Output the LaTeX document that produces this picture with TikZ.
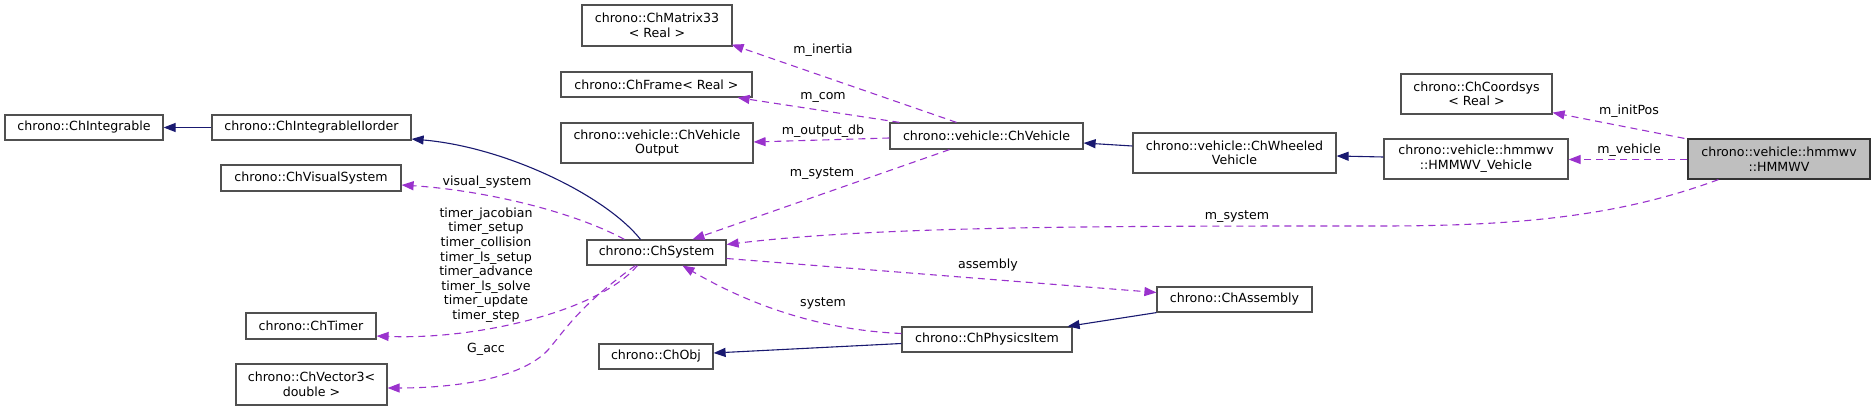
\documentclass[tikz,border=0pt]{standalone}
\usepackage{fontspec}
\setmainfont{DejaVu Sans}
\usetikzlibrary{arrows.meta,calc}
\definecolor{edgepurple}{HTML}{9A32CD}
\definecolor{edgenavy}{HTML}{191970}
\definecolor{boxborder}{HTML}{505050}
\definecolor{rootfill}{HTML}{BFBFBF}
\begin{document}
\begin{tikzpicture}[x=1pt,y=-1pt,
  font=\fontsize{12.6}{14.6}\selectfont,
  cls/.style={draw=boxborder, line width=1.2pt, fill=white, inner sep=0pt, align=center},
  rootcls/.style={cls, fill=rootfill, draw=black!80},
  inh/.style={draw=edgenavy, line width=1.1pt, -{Triangle[length=12pt,width=9pt,fill=edgenavy]}},
  usage/.style={draw=edgepurple, line width=1.1pt, dash pattern=on 7pt off 5pt, -{Triangle[length=12pt,width=9pt,fill=edgepurple]}},
  lbl/.style={inner sep=0pt, align=center}
]
\useasboundingbox (0,0) rectangle (1876,411);

% nodes
\node[cls, minimum width=158, minimum height=25] (ChIntegrable) at (84,127.5) {chrono::ChIntegrable};
\node[cls, minimum width=199, minimum height=25] (ChIntegrableIIorder) at (311.5,127.5) {chrono::ChIntegrableIIorder};
\node[cls, minimum width=180, minimum height=26] (ChVisualSystem) at (311,178) {chrono::ChVisualSystem};
\node[cls, minimum width=130, minimum height=26] (ChTimer) at (311,326) {chrono::ChTimer};
\node[cls, minimum width=151, minimum height=41] (ChVector3) at (311.5,384.5) {chrono::ChVector3<\\double >};
\node[cls, minimum width=139, minimum height=25] (ChSystem) at (656.5,252.5) {chrono::ChSystem};
\node[cls, minimum width=114, minimum height=25] (ChObj) at (656,356.5) {chrono::ChObj};
\node[cls, minimum width=150, minimum height=41] (ChMatrix33) at (657,25.5) {chrono::ChMatrix33\\< Real >};
\node[cls, minimum width=191, minimum height=25] (ChFrame) at (656.5,84.5) {chrono::ChFrame< Real >};
\node[cls, minimum width=192, minimum height=40] (ChVehicleOutput) at (657,143) {chrono::vehicle::ChVehicle\\Output};
\node[cls, minimum width=193, minimum height=26] (ChVehicle) at (986.5,136) {chrono::vehicle::ChVehicle};
\node[cls, minimum width=203, minimum height=40] (ChWheeledVehicle) at (1234.5,153) {chrono::vehicle::ChWheeled\\Vehicle};
\node[cls, minimum width=155, minimum height=25] (ChAssembly) at (1234.5,299.5) {chrono::ChAssembly};
\node[cls, minimum width=170, minimum height=25] (ChPhysicsItem) at (987,339.5) {chrono::ChPhysicsItem};
\node[cls, minimum width=151, minimum height=40] (ChCoordsys) at (1476.5,94) {chrono::ChCoordsys\\< Real >};
\node[cls, minimum width=184, minimum height=40] (HMMWVVehicle) at (1476,159) {chrono::vehicle::hmmwv\\::HMMWV\_Vehicle};
\node[rootcls, minimum width=182, minimum height=40] (HMMWV) at (1779,159) {chrono::vehicle::hmmwv\\::HMMWV};

% inheritance edges
\draw[inh] (ChIntegrableIIorder.west) -- (ChIntegrable.east);
\draw[inh] ($(ChSystem.north)+(-16,0)$) .. controls (605,195) and (505,147) .. ($(ChIntegrableIIorder.east)+(0,11.5)$);
\draw[inh] ($(ChWheeledVehicle.west)+(0,-7)$) -- ($(ChVehicle.east)+(0,7)$);
\draw[inh] ($(HMMWVVehicle.west)+(0,-2)$) -- ($(ChWheeledVehicle.east)+(0,3)$);
\draw[inh] ($(ChPhysicsItem.west)+(0,4)$) -- ($(ChObj.east)+(0,-3.5)$);
\draw[inh] (ChAssembly.south west) -- ($(ChPhysicsItem.north east)+(-5,0)$);

% usage edges
\draw[usage] ($(ChVehicle.north)+(-30,0)$) -- ($(ChMatrix33.south east)+(-1,-2)$);
\draw[usage] ($(ChVehicle.north west)+(10,0)$) -- ($(ChFrame.south east)+(-15,0)$);
\draw[usage] ($(ChVehicle.west)+(0,2)$) -- ($(ChVehicleOutput.east)+(0,-1)$);
\draw[usage] ($(ChVehicle.south)+(-37,0)$) -- ($(ChSystem.north)+(36,0)$);
\draw[usage] ($(HMMWV.west)+(0,0.5)$) -- ($(HMMWVVehicle.east)+(0,0.5)$);
\draw[usage] ($(HMMWV.north west)+(-3,0)$) -- ($(ChCoordsys.south east)+(0,-2)$);
\draw[usage] ($(HMMWV.south west)+(31,0)$) .. controls (1620,216) and (1520,226) .. (1380,226)
   .. controls (1100,226) and (880,226) .. ($(ChSystem.east)+(0,-8)$);
\draw[usage] ($(ChSystem.north west)+(38,0)$) .. controls (570,210) and (480,190) .. ($(ChVisualSystem.east)+(0,7)$);
\draw[usage] ($(ChSystem.south west)+(51,0)$) .. controls (600,310) and (480,340) .. ($(ChTimer.east)+(0,10)$);
\draw[usage] ($(ChSystem.south west)+(49,0)$) .. controls (580,305) and (565,330) .. (548,350)
   .. controls (520,380) and (450,388) .. ($(ChVector3.east)+(0,3.5)$);
\draw[usage] ($(ChPhysicsItem.west)+(0,-6)$) .. controls (820,330) and (750,305) .. ($(ChSystem.south)+(26,0)$);
\draw[usage] ($(ChSystem.east)+(0,6)$) -- ($(ChAssembly.west)+(0,-7)$);

% labels
\node[lbl] (lInertia) at (823,50) {m\_inertia};
\node[lbl] (lCom) at (823,97) {m\_com};
\node[lbl] (lOutput) at (823,131) {m\_output\_db};
\node[lbl] (lSysVeh) at (822,174) {m\_system};
\node[lbl] (lInitPos) at (1629,111) {m\_initPos};
\node[lbl] (lVehicle) at (1629,150) {m\_vehicle};
\node[lbl] (lSysRoot) at (1237,217) {m\_system};
\node[lbl] (lVisual) at (487,182) {visual\_system};
\node[lbl] (lTimers) at (486,265) {timer\_jacobian\\timer\_setup\\timer\_collision\\timer\_ls\_setup\\timer\_advance\\timer\_ls\_solve\\timer\_update\\timer\_step};
\node[lbl] (lGacc) at (486,349) {G\_acc};
\node[lbl] (lSystem) at (823,303) {system};
\node[lbl] (lAssembly) at (988,265) {assembly};
\end{tikzpicture}
\end{document}
